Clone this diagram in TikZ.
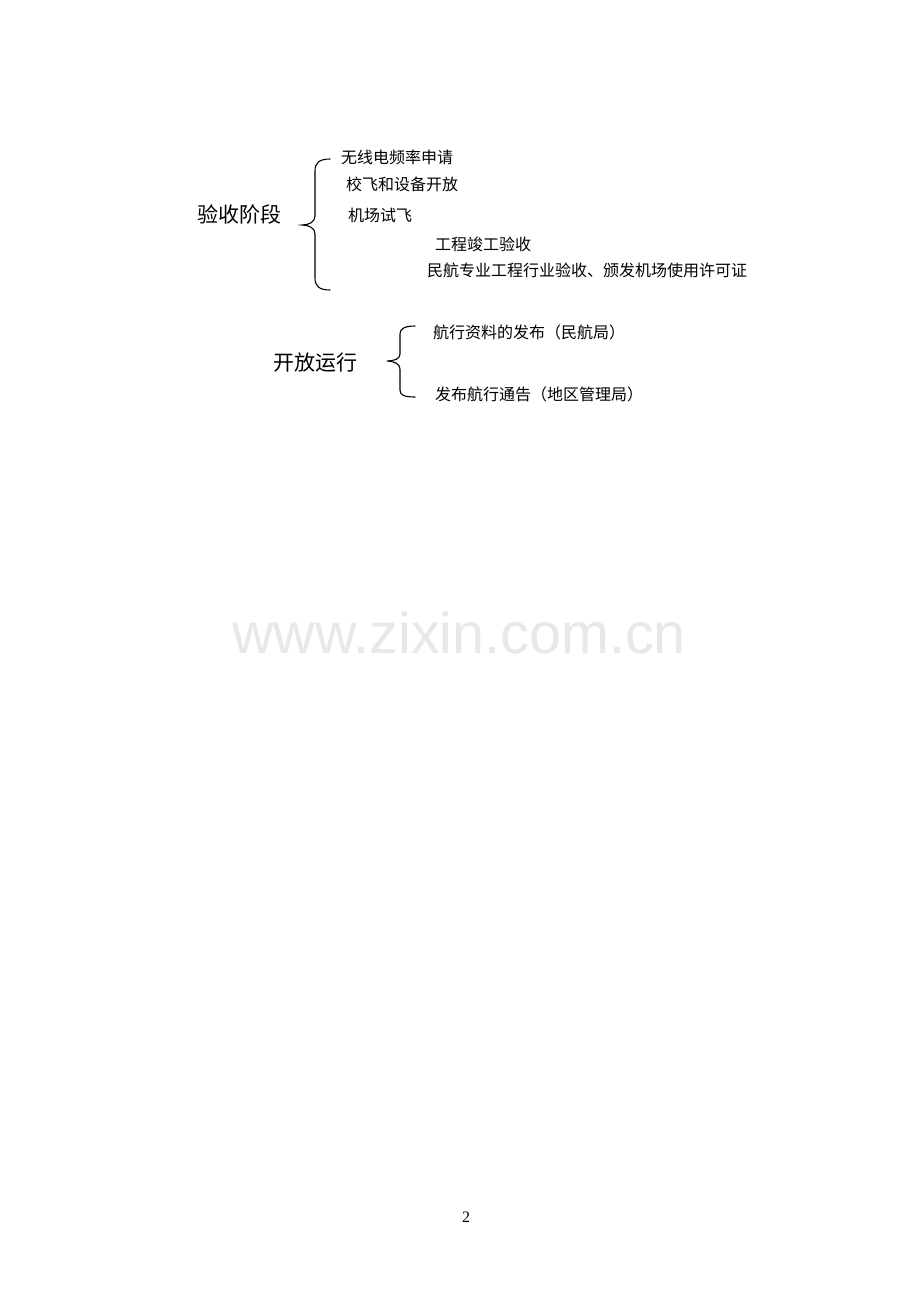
\documentclass[tikz,border=0pt]{standalone}
\usepackage{fontspec}
\newfontfamily\cjk{Noto Sans CJK SC}
\newfontfamily\markfont{Liberation Sans}
\newfontfamily\numfont{Liberation Serif}
\tikzset{
  phase/.style={anchor=west, inner sep=0pt, font=\fontsize{21}{21}\cjk},
  item/.style={anchor=west, inner sep=0pt, font=\fontsize{16}{16}\cjk},
  brace/.style={draw, line width=1.1pt, line cap=round}
}
\begin{document}
\begin{tikzpicture}[x=1pt, y=-1pt]
    \useasboundingbox [fill=white] (0, 0) rectangle (920, 1302);

    % Phases
    \path (197, 214) node [phase] (accept) {验收阶段};
    \path (273, 363) node [phase] (open) {开放运行};

    % Items of the acceptance phase
    \path (341, 157) node [item] (radio) {无线电频率申请};
    \path (346, 184) node [item] (calib) {校飞和设备开放};
    \path (348, 215) node [item] (trial) {机场试飞};
    \path (435, 244) node [item] (done) {工程竣工验收};
    \path (427, 270) node [item] (licence) {民航专业工程行业验收、颁发机场使用许可证};

    % Items of the operation phase
    \path (433, 332) node [item] (aip) {航行资料的发布（民航局）};
    \path (435, 394) node [item] (notam) {发布航行通告（地区管理局）};

    % Braces
    \draw [brace] (330, 159) .. controls (319, 159) and (315, 163) .. (315, 171)
      -- (315, 216) .. controls (315, 222) and (309, 225) .. (302, 225)
      .. controls (309, 225) and (315, 228) .. (315, 234)
      -- (315, 278) .. controls (315, 286) and (319, 290) .. (330, 290);
    \draw [brace] (415, 326) .. controls (404, 326) and (400, 329) .. (400, 334)
      -- (400, 354) .. controls (400, 359) and (394, 361) .. (387, 361)
      .. controls (394, 361) and (400, 364) .. (400, 369)
      -- (400, 390) .. controls (400, 395) and (404, 397) .. (415, 397);

    % Watermark and page number
    \path (459, 633) node [text=black!9, inner sep=0pt, font=\fontsize{57.5}{57.5}\markfont] (mark) {www.zixin.com.cn};
    \path (466, 1217) node [inner sep=0pt, font=\fontsize{16}{16}\numfont] (page) {2};
  \end{tikzpicture}
\end{document}
